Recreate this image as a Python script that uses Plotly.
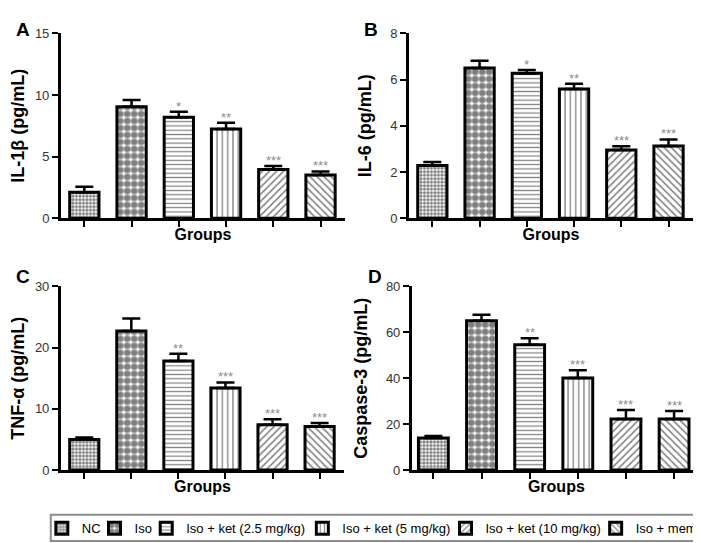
import plotly.graph_objects as go

# ---------------- data ----------------
groups = ["NC", "Iso", "Iso + ket (2.5 mg/kg)", "Iso + ket (5 mg/kg)",
          "Iso + ket (10 mg/kg)", "Iso + mem"]

il1b = [2.1, 9.05, 8.2, 7.25, 3.95, 3.5]
il1b_err = [0.45, 0.55, 0.45, 0.5, 0.3, 0.3]
il1b_sig = ["", "", "*", "**", "***", "***"]

il6 = [2.28, 6.5, 6.28, 5.6, 2.95, 3.13]
il6_err = [0.16, 0.32, 0.14, 0.22, 0.17, 0.28]
il6_sig = ["", "", "*", "**", "***", "***"]

tnfa = [5.0, 22.7, 17.8, 13.4, 7.4, 7.1]
tnfa_err = [0.3, 2.05, 1.2, 0.9, 0.9, 0.6]
tnfa_sig = ["", "", "**", "***", "***", "***"]

casp3 = [14.0, 65.0, 54.5, 40.1, 22.2, 22.2]
casp3_err = [0.8, 2.6, 2.9, 3.4, 3.9, 3.5]
casp3_sig = ["", "", "**", "***", "***", "***"]

ticks_a = [0, 5, 10, 15]
ticks_b = [0, 2, 4, 6, 8]
ticks_c = [0, 10, 20, 30]
ticks_d = [0, 20, 40, 60, 80]

# ---------------- styles ----------------
FONT = "Arial, Liberation Sans, sans-serif"
W, H = 701, 543

patterns = [
    dict(shape=".", size=3.5, solidity=0.62),
    dict(shape=".", size=7, solidity=0.7),
    dict(shape="-", size=4.3, solidity=0.28),
    dict(shape="|", size=5.3, solidity=0.24),
    dict(shape="/", size=5, solidity=0.3),
    dict(shape="\\", size=5, solidity=0.3),
]

# legend entry text starts (px) in the bottom legend row
legend_text_x = [72, 125, 177, 334, 478, 629]

def px_x(a, b):
    return [a / W, b / W]

def px_y(top, bottom):
    return [1 - bottom / H, 1 - top / H]

panels = [
    dict(letter="A", vals=il1b, err=il1b_err, sig=il1b_sig, title="IL-1β (pg/mL)",
         ticks=ticks_a, xd=px_x(49, 335), yd=px_y(19, 209), xr=[-0.5, 5.52],
         lx=2, ly=2),
    dict(letter="B", vals=il6, err=il6_err, sig=il6_sig, title="IL-6 (pg/mL)",
         ticks=ticks_b, xd=px_x(399, 685), yd=px_y(19, 209), xr=[-0.5, 5.52],
         lx=352, ly=2),
    dict(letter="C", vals=tnfa, err=tnfa_err, sig=tnfa_sig, title="TNF-α (pg/mL)",
         ticks=ticks_c, xd=px_x(49, 334), yd=px_y(279, 468), xr=[-0.5, 5.52],
         lx=2, ly=256),
    dict(letter="D", vals=casp3, err=casp3_err, sig=casp3_sig, title="Caspase-3 (pg/mL)",
         ticks=ticks_d, xd=px_x(402, 693), yd=px_y(279, 468), xr=[-0.45, 5.56],
         lx=356, ly=256),
]

fig = go.Figure()
annotations = []
layout_axes = {}
legends = {}

for g_i in range(len(groups)):
    key = "legend" if g_i == 0 else "legend" + str(g_i + 1)
    legends[key] = dict(
        orientation="h", x=(legend_text_x[g_i] - 42) / W, xanchor="left",
        y=1 - 528 / H, yanchor="middle",
        bgcolor="rgba(0,0,0,0)", borderwidth=0,
        font=dict(family=FONT, size=13, color="black"))

for p_i, p in enumerate(panels):
    n = "" if p_i == 0 else str(p_i + 1)
    xa, ya = "x" + n, "y" + n
    for g_i, g in enumerate(groups):
        pat = patterns[g_i]
        fig.add_trace(go.Bar(
            x=[g], y=[p["vals"][g_i]],
            xaxis=xa, yaxis=ya,
            name=g, legendgroup=g, showlegend=(p_i == 0),
            legend="legend" if g_i == 0 else "legend" + str(g_i + 1),
            width=0.62,
            marker=dict(color="white",
                        line=dict(color="black", width=3),
                        pattern=dict(shape=pat["shape"], size=pat["size"],
                                     solidity=pat["solidity"],
                                     fgcolor="black", bgcolor="white")),
            error_y=dict(type="data", symmetric=False,
                         array=[p["err"][g_i]], arrayminus=[0],
                         color="black", thickness=2.5, width=9),
            hoverinfo="skip",
        ))
        if p["sig"][g_i]:
            annotations.append(dict(
                x=g, y=p["vals"][g_i] + p["err"][g_i], xref=xa, yref=ya,
                text=p["sig"][g_i], showarrow=False, yanchor="bottom", yshift=-4,
                font=dict(family=FONT, size=13, color="#8c8c8c")))
    annotations.append(dict(
        x=p["lx"] / W, y=1 - p["ly"] / H, xref="paper", yref="paper",
        xanchor="left", yanchor="top", text="<b>" + p["letter"] + "</b>",
        showarrow=False, font=dict(family=FONT, size=19, color="black")))

    layout_axes["xaxis" + n] = dict(
        domain=p["xd"], anchor=ya, type="category",
        categoryorder="array", categoryarray=groups,
        range=p["xr"], showticklabels=False,
        ticks="outside", ticklen=6, tickwidth=2, tickcolor="black",
        showline=True, linecolor="black", linewidth=2.5,
        showgrid=False, zeroline=False,
        title=dict(text="<b>Groups</b>", standoff=3,
                   font=dict(family=FONT, size=16, color="black")))
    layout_axes["yaxis" + n] = dict(
        domain=p["yd"], anchor=xa,
        range=[0, p["ticks"][-1]], tickvals=p["ticks"],
        ticks="outside", ticklen=6, tickwidth=2, tickcolor="black",
        tickfont=dict(family=FONT, size=13, color="#333333"),
        showline=True, linecolor="black", linewidth=2.5,
        showgrid=False, zeroline=False,
        title=dict(text="<b>" + p["title"] + "</b>", standoff=14,
                   font=dict(family=FONT, size=18, color="black")))

fig.update_layout(
    width=W, height=H,
    margin=dict(l=0, r=0, t=0, b=0),
    paper_bgcolor="white", plot_bgcolor="white",
    barmode="overlay",
    font=dict(family=FONT, color="black"),
    showlegend=True,
    annotations=annotations,
    shapes=[dict(type="rect", xref="paper", yref="paper",
                 x0=39 / W, x1=698 / W, y0=1 - 541 / H, y1=1 - 514 / H,
                 line=dict(color="#8c8c8c", width=2), fillcolor="rgba(0,0,0,0)")],
    **legends,
    **layout_axes,
)

fig.write_html("out.html")
